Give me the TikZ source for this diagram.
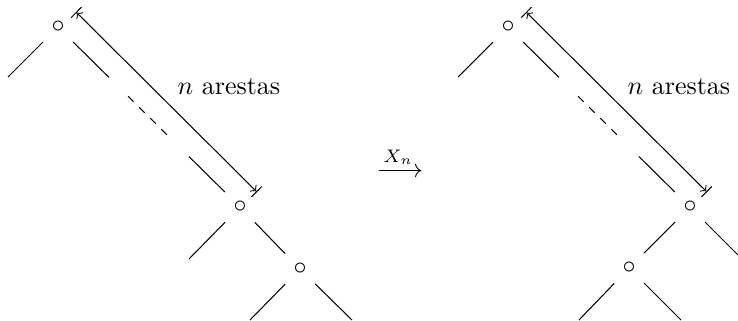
\documentclass[tikz,border=0pt]{standalone}
\usepackage{amsmath}
\usetikzlibrary{calc}

\begin{document}
\begin{tikzpicture}[
  x=0.385pt, y=-0.385pt,
  vtx/.style={circle, inner sep=0pt, minimum size=16pt},
  span/.style={|<->|}
]
\useasboundingbox (0,0) rectangle (738,320);

% ----- Left tree
\node[vtx] (r1) at (58,27) {$\circ$};
\node[vtx] (v1) at (240,207) {$\circ$};
\node[vtx] (w1) at (300,269) {$\circ$};
\coordinate (r1l) at (8,77);
\coordinate (v1l) at (189,259);
\coordinate (w1l) at (250,320);
\coordinate (w1r) at (352,320);

\draw (r1) -- (r1l);
\draw (r1) -- ($(r1)!0.28!(v1)$);
\draw[dashed] ($(r1)!0.385!(v1)$) -- ($(r1)!0.6!(v1)$);
\draw ($(r1)!0.72!(v1)$) -- (v1);
\draw (v1) -- (v1l);
\draw (v1) -- (w1);
\draw (w1) -- (w1l);
\draw (w1) -- (w1r);

\draw[span] ($(r1)+(18,-15)$) -- ($(v1)+(17,-15)$)
  node[midway, xshift=24pt, yshift=6pt] {$n$ arestas};

% ----- Map
\node (map) at (400,162) {$\xrightarrow{X_n}$};

% ----- Right tree
\node[vtx] (r2) at (508,27) {$\circ$};
\node[vtx] (v2) at (690,207) {$\circ$};
\node[vtx] (w2) at (629,268) {$\circ$};
\coordinate (r2l) at (458,77);
\coordinate (v2r) at (741,258);
\coordinate (w2l) at (579,320);
\coordinate (w2r) at (681,320);

\draw (r2) -- (r2l);
\draw (r2) -- ($(r2)!0.28!(v2)$);
\draw[dashed] ($(r2)!0.385!(v2)$) -- ($(r2)!0.6!(v2)$);
\draw ($(r2)!0.72!(v2)$) -- (v2);
\draw (v2) -- (w2);
\draw (v2) -- (v2r);
\draw (w2) -- (w2l);
\draw (w2) -- (w2r);

\draw[span] ($(r2)+(18,-15)$) -- ($(v2)+(17,-15)$)
  node[midway, xshift=24pt, yshift=6pt] {$n$ arestas};

\end{tikzpicture}
\end{document}
